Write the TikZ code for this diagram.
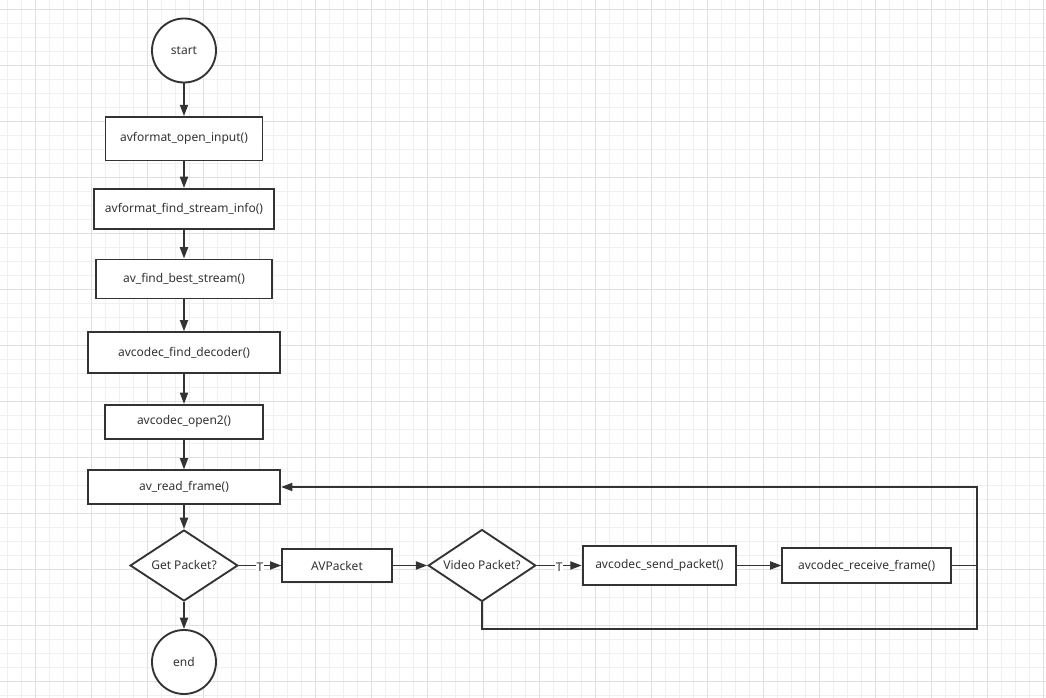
\documentclass[tikz,border=0pt]{standalone}
\usepackage{fontspec}
\setmainfont{Noto Sans}
\usetikzlibrary{shapes.geometric,arrows.meta}
\definecolor{ink}{HTML}{333333}
\definecolor{gminor}{HTML}{F0F0F0}
\definecolor{gmajor}{HTML}{E0E0E0}
\begin{document}
\begin{tikzpicture}[x=0.75pt,y=-0.75pt,
  every node/.style={font=\fontsize{9}{11}\selectfont,text=ink},
  box/.style={draw=ink,line width=1.4pt,rectangle,inner sep=0pt,fill=white},
  cir/.style={draw=ink,line width=1.4pt,circle,inner sep=0pt,minimum size=64*0.75pt,fill=white},
  dia/.style={draw=ink,line width=1.4pt,diamond,aspect=1.5,inner sep=0pt,fill=white},
  conn/.style={draw=ink,line width=1.4pt},
  arr/.style={conn,-{Triangle[length=8.5pt,width=6pt]}},
  lbl/.style={fill=white,inner xsep=0.6pt,inner ysep=0pt,yshift=-1.6pt}]
% canvas
\useasboundingbox (0,0) rectangle (1046,698);
\fill[white] (0,0) rectangle (1046,698);
\foreach \i in {0,...,75} {\draw[gminor,line width=0.75pt] (7.3+14*\i,0) -- (7.3+14*\i,698);}
\foreach \j in {0,...,50} {\draw[gminor,line width=0.75pt] (0,9.3+14*\j) -- (1046,9.3+14*\j);}
\foreach \i in {0,...,18} {\draw[gmajor,line width=0.75pt] (35.3+56*\i,0) -- (35.3+56*\i,698);}
\foreach \j in {0,...,12} {\draw[gmajor,line width=0.75pt] (0,9.3+56*\j) -- (1046,9.3+56*\j);}
% nodes
\node[cir] (start) at (184,50.5) {start};
\node[box,minimum width=157*0.75pt,minimum height=43.5*0.75pt] (open) at (184,138.8) {avformat\_open\_input()};
\node[box,minimum width=179.7*0.75pt,minimum height=40*0.75pt] (info) at (184,209) {avformat\_find\_stream\_info()};
\node[box,minimum width=175.6*0.75pt,minimum height=39*0.75pt] (best) at (184,279) {av\_find\_best\_stream()};
\node[box,minimum width=191.4*0.75pt,minimum height=40.4*0.75pt] (dec) at (184,352.5) {avcodec\_find\_decoder()};
\node[box,minimum width=157.6*0.75pt,minimum height=33.7*0.75pt] (open2) at (184,421.8) {avcodec\_open2()};
\node[box,minimum width=192.3*0.75pt,minimum height=33.3*0.75pt] (read) at (184,487) {av\_read\_frame()};
\node[dia,minimum width=107.7*0.75pt,minimum height=71*0.75pt] (get) at (184,565.5) {Get Packet?};
\node[cir] (end) at (184,662) {end};
\node[box,minimum width=109.4*0.75pt,minimum height=33.3*0.75pt] (pkt) at (337,565.5) {AVPacket};
\node[dia,minimum width=107.6*0.75pt,minimum height=72*0.75pt] (vid) at (482,565.5) {Video Packet?};
\node[box,minimum width=153.5*0.75pt,minimum height=39.6*0.75pt] (send) at (659.4,565.5) {avcodec\_send\_packet()};
\node[box,minimum width=168.4*0.75pt,minimum height=35*0.75pt] (recv) at (866.6,565.5) {avcodec\_receive\_frame()};
\coordinate (c1) at (977,487);
\coordinate (c2) at (977,565.5);
\coordinate (c3) at (977,629);
\coordinate (c4) at (482,629);
% connectors
\draw[arr] (start) -- (open);
\draw[arr] (open) -- (info);
\draw[arr] (info) -- (best);
\draw[arr] (best) -- (dec);
\draw[arr] (dec) -- (open2);
\draw[arr] (open2) -- (read);
\draw[arr] (read) -- (get);
\draw[arr] (get) -- (end);
\draw[arr] (get) -- node[lbl] {T} (pkt);
\draw[arr] (pkt) -- (vid);
\draw[arr] (vid) -- node[lbl] {T} (send);
\draw[arr] (send) -- (recv);
\draw[arr] (recv.east) -- (c2) -- (c1) -- (read.east);
\draw[conn] (vid.south) -- (c4) -- (c3) -- (c2);
\end{tikzpicture}
\end{document}
